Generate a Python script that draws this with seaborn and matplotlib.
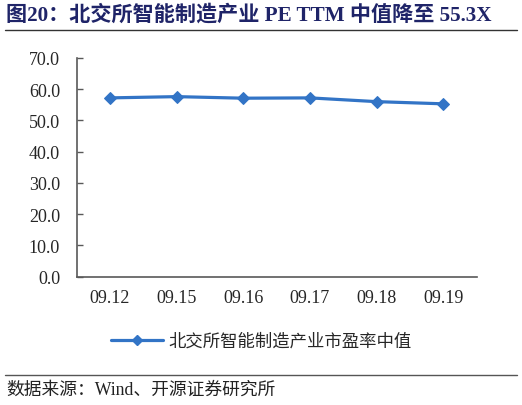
import seaborn as sns
import matplotlib.pyplot as plt
import pandas as pd
from matplotlib.lines import Line2D

# Data
dates = ["09.12", "09.15", "09.16", "09.17", "09.18", "09.19"]
pe_median = [57.2, 57.6, 57.1, 57.2, 56.0, 55.3]
series_name = "北交所智能制造产业市盈率中值"

sns.set_theme(style="white")
plt.rcParams["font.family"] = ["Liberation Serif", "Noto Sans CJK SC", "DejaVu Sans"]

df = pd.DataFrame({"date": dates, "pe": pe_median})

fig = plt.figure(figsize=(5.22, 4.06), dpi=100)
ax = fig.add_axes([0.147, 0.316, 0.766, 0.539])

blue = "#3274C6"
sns.lineplot(data=df, x="date", y="pe", ax=ax, color=blue, linewidth=2.3,
             marker="D", markersize=6.5, markeredgecolor=blue, sort=False)

ax.set_ylim(0, 70)
ax.set_yticks(range(0, 71, 10))
ax.set_yticklabels([f"{v:.1f}" for v in range(0, 71, 10)], fontsize=13)
ax.set_xlim(-0.5, len(dates) - 0.5)
ax.set_xticks(range(len(dates)))
ax.set_xticklabels(dates, fontsize=13)
ax.set_xticks([i - 0.5 for i in range(len(dates) + 1)], minor=True)
ax.tick_params(axis="x", which="major", length=0, pad=9)
ax.tick_params(axis="x", which="minor", direction="in", length=4, width=1, color="#595959")
ax.tick_params(axis="y", direction="in", length=4, width=1, color="#595959", pad=12, left=True)
ax.set_xlabel("")
ax.set_ylabel("")
for s in ["top", "right"]:
    ax.spines[s].set_visible(False)
for s in ["left", "bottom"]:
    ax.spines[s].set_color("#595959")
    ax.spines[s].set_linewidth(1.2)

handle = Line2D([], [], color=blue, linewidth=2.3, marker="D", markersize=5)
fig.legend([handle], [series_name], loc="center", bbox_to_anchor=(0.5, 0.158),
           frameon=False, handlelength=3.0, handletextpad=0.3,
           prop={"family": ["Noto Sans CJK SC"], "size": 12.5, "weight": "light"})

# Title and source
fig.text(0.012, 0.962, "图20：北交所智能制造产业 PE TTM 中值降至 55.3X", fontsize=15.2,
         fontweight="bold", color="#1F2468", va="center", ha="left")
fig.add_artist(Line2D([0.01, 0.99], [0.923, 0.923], color="#333333", linewidth=1))
fig.add_artist(Line2D([0.01, 0.99], [0.074, 0.074], color="#555555", linewidth=1))
fig.text(0.012, 0.038, "数据来源：Wind、开源证券研究所", fontsize=12.8, color="#222222",
         va="center", ha="left")

fig.savefig("out.png", dpi=100)
